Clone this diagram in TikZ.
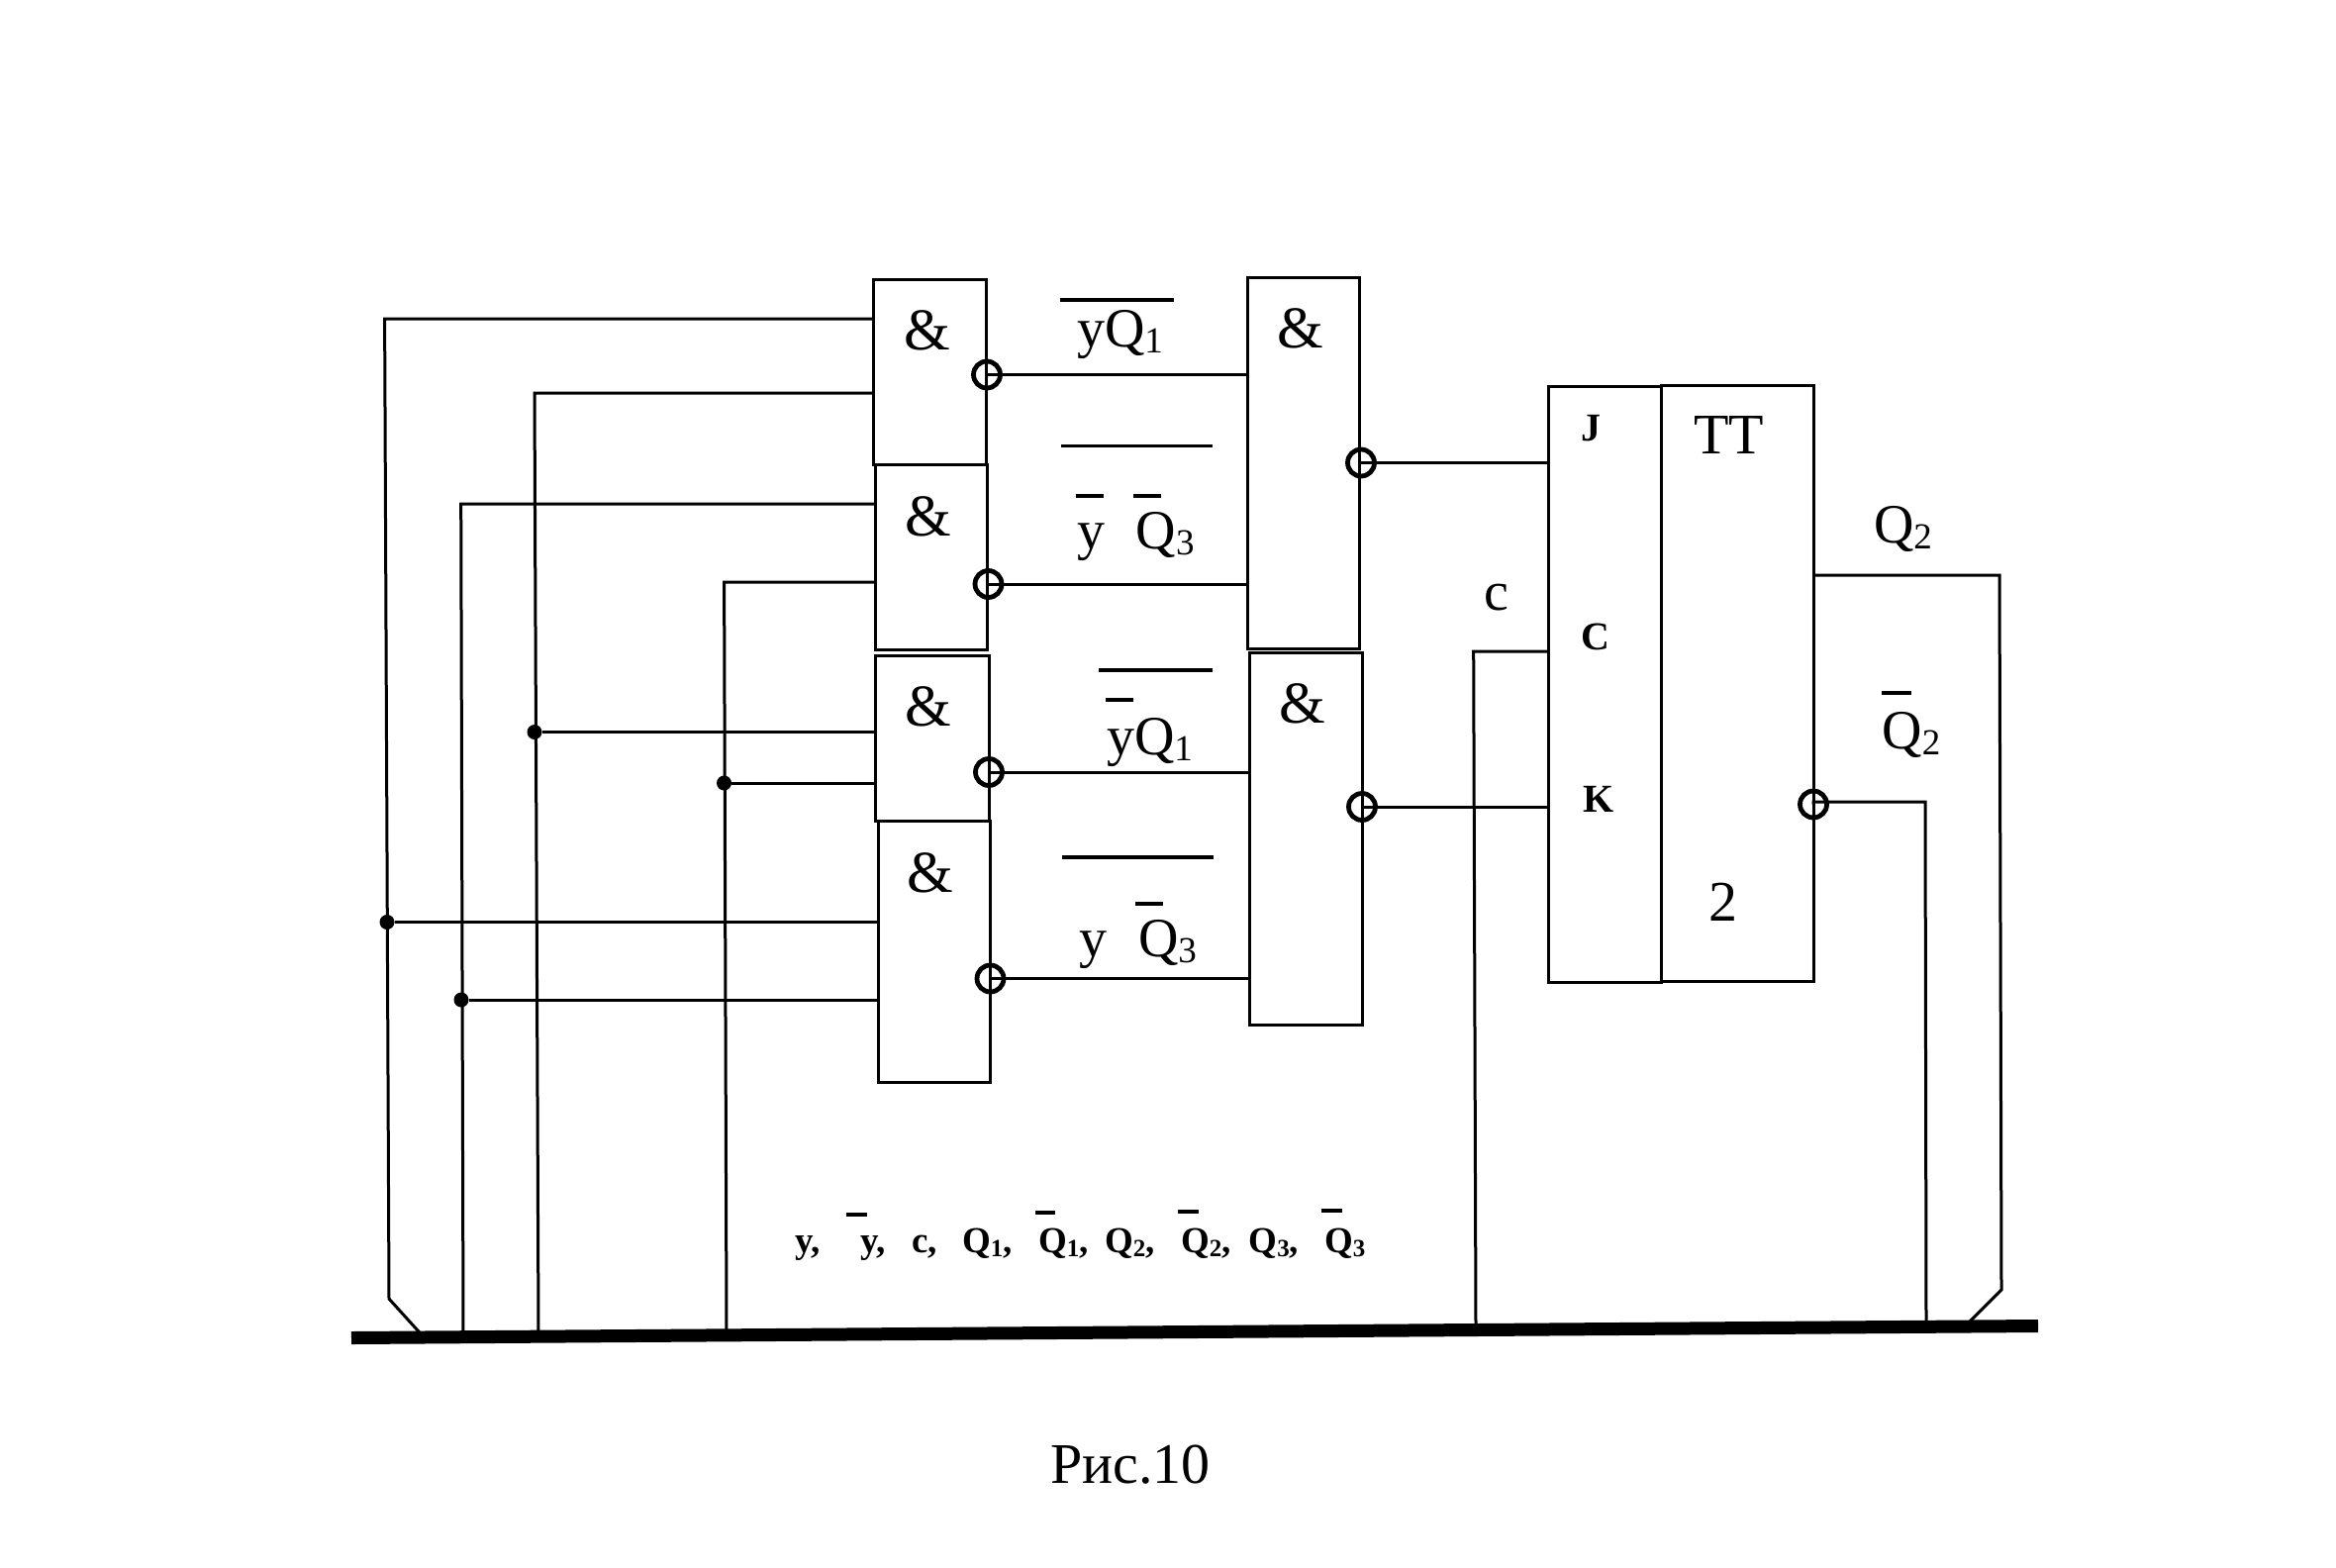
\documentclass[tikz,border=0pt]{standalone}
\usepackage{fontspec}
\setmainfont{Liberation Serif}
\newcommand{\mainsub}[1]{\raisebox{-6pt}{\fontsize{37}{37}\selectfont #1}}
\newcommand{\boldsub}[1]{\raisebox{-4pt}{\fontsize{25}{25}\selectfont #1}}
\tikzset{
  wire/.style={line width=3pt,line join=miter},
  gatebox/.style={draw,line width=3pt,rectangle,inner sep=0pt,outer sep=0pt},
  invert/.style={draw,circle,line width=4.8pt,minimum size=27pt,inner sep=0pt,outer sep=0pt},
  junct/.style={fill,circle,minimum size=15pt,inner sep=0pt,outer sep=0pt},
  barline/.style={line width=3.4pt},
  smallbar/.style={line width=3.4pt},
  lab/.style={anchor=base west,inner sep=0pt,outer sep=0pt,font=\fontsize{56}{56}\selectfont},
  amp/.style={anchor=center,inner sep=0pt,outer sep=0pt,font=\fontsize{60}{60}\selectfont},
  pin/.style={anchor=base west,inner sep=0pt,outer sep=0pt,font=\fontsize{40}{40}\selectfont\bfseries},
  lst/.style={anchor=base west,inner sep=0pt,outer sep=0pt,font=\fontsize{37}{37}\selectfont\bfseries}
}
\begin{document}
\begin{tikzpicture}[x=1pt,y=-1pt]
\useasboundingbox (0,0) rectangle (2360,1583);
% gates
\node[gatebox,minimum width=113.6pt,minimum height=187pt] (ga) at (939.2,376) {};
\node[gatebox,minimum width=113pt,minimum height=187pt] (gb) at (941,563) {};
\node[gatebox,minimum width=114.5pt,minimum height=167pt] (gc) at (941.8,745.5) {};
\node[gatebox,minimum width=113pt,minimum height=264pt] (gd) at (943.5,961) {};
\node[gatebox,minimum width=113pt,minimum height=375pt] (ge) at (1317,467.5) {};
\node[gatebox,minimum width=113.4pt,minimum height=376pt] (gf) at (1319.3,847) {};
\node[gatebox,minimum width=114pt,minimum height=602pt] (ffl) at (1621,691) {};
\node[gatebox,minimum width=154pt,minimum height=602pt] (ffr) at (1755,690.5) {};
% amp labels
\node[amp] (aa) at (936.5,334) {\&};
\node[amp] (ab) at (938,521.5) {\&};
\node[amp] (ac) at (938,713.5) {\&};
\node[amp] (ad) at (939.5,881.5) {\&};
\node[amp] (ae) at (1314,332) {\&};
\node[amp] (af) at (1316,710.5) {\&};
% inverters
\node[invert] (oa) at (997,378.5) {};
\node[invert] (ob) at (998.5,590) {};
\node[invert] (oc) at (999,780) {};
\node[invert] (od) at (1000.5,988.5) {};
\node[invert] (oe) at (1375,467.5) {};
\node[invert] (of) at (1376,815) {};
\node[invert] (oq) at (1832,812.5) {};
% bus
\coordinate (busl) at (355,1351.5);
\coordinate (busr) at (2059,1339.5);
\draw[line width=13pt] (busl) -- (busr);
% junctions
\node[junct] (j1) at (540,739.5) {};
\node[junct] (j2) at (731.5,791) {};
\node[junct] (j3) at (391,931.5) {};
\node[junct] (j4) at (466,1010) {};
% corners
\coordinate (c1) at (388.6,322);
\coordinate (c1b) at (393,1312);
\coordinate (c1e) at (424.7,1347);
\coordinate (c2) at (540,397);
\coordinate (c2e) at (544,1347);
\coordinate (c3) at (465.7,509);
\coordinate (c3e) at (468,1347);
\coordinate (c4) at (731.6,588);
\coordinate (c4e) at (734,1346);
\coordinate (cc) at (1488.7,658);
\coordinate (cce) at (1491,1340);
\coordinate (q1) at (2020,581);
\coordinate (q1b) at (2022,1303);
\coordinate (q1e) at (1988,1337);
\coordinate (q2) at (1945,810);
\coordinate (q2e) at (1946,1338);
% input wires
\draw[wire] (ga.west |- c1) -- (c1) -- (c1b) -- (c1e);
\draw[wire] (ga.west |- c2) -- (c2) -- (c2e);
\draw[wire] (gb.west |- c3) -- (c3) -- (c3e);
\draw[wire] (gb.west |- c4) -- (c4) -- (c4e);
\draw[wire] (j1) -- (j1 -| gc.west);
\draw[wire] (j2) -- (j2 -| gc.west);
\draw[wire] (j3) -- (j3 -| gd.west);
\draw[wire] (j4) -- (j4 -| gd.west);
% gate outputs
\draw[wire] (oa.center) -- (oa.center -| ge.west);
\draw[wire] (ob.center) -- (ob.center -| ge.west);
\draw[wire] (oc.center) -- (oc.center -| gf.west);
\draw[wire] (od.center) -- (od.center -| gf.west);
\draw[wire] (oe.center) -- (oe.center -| ffl.west);
\draw[wire] (of.center) -- (of.center -| ffl.west);
% flip-flop wires
\draw[wire] (ffl.west |- cc) -- (cc) -- (cce);
\draw[wire] (ffr.east |- q1) -- (q1) -- (q1b) -- (q1e);
\draw[wire] (oq.center) -- (oq.center |- q2) -- (q2) -- (q2e);
% overbars
\draw[barline] (1070.5,303) -- (1186,303);
\draw[barline] (1072,450.5) -- (1225,450.5);
\draw[smallbar] (1086.6,501) -- (1114.6,501);
\draw[smallbar] (1145,501) -- (1173,501);
\draw[barline] (1110,677) -- (1225,677);
\draw[smallbar] (1117,707) -- (1145,707);
\draw[barline] (1073,866) -- (1226,866);
\draw[smallbar] (1147,913) -- (1175,913);
\draw[smallbar] (1901,700) -- (1931,700);
% main labels
\node[lab] (t1) at (1088,350) {yQ\mainsub{1}};
\node[lab] (t2a) at (1088,554) {y};
\node[lab] (t2b) at (1147.6,554) {Q\mainsub{3}};
\node[lab] (t3) at (1118,762) {yQ\mainsub{1}};
\node[lab] (t4a) at (1090,966) {y};
\node[lab] (t4b) at (1150,966) {Q\mainsub{3}};
\node[lab] (tq) at (1893,548.5) {Q\mainsub{2}};
\node[lab] (tqb) at (1901.5,756) {Q\mainsub{2}};
\node[lab] (tc) at (1499.5,616) {c};
\node[lab,font=\fontsize{58}{58}\selectfont] (ttt) at (1711,458.5) {TT};
\node[lab,font=\fontsize{58}{58}\selectfont] (ttwo) at (1726,930) {2};
\node[pin] (pj) at (1597,445.5) {J};
\node[pin] (pc) at (1597.5,656) {C};
\node[pin] (pk) at (1599.5,820) {K};
% signal list
\node[lst] (s1) at (803.5,1265) {y,};
\node[lst] (s2) at (869,1265) {y,};
\node[lst] (s3) at (921,1265) {c,};
\node[lst] (s4) at (972,1265) {Q\boldsub{1},};
\node[lst] (s5) at (1049,1265) {Q\boldsub{1},};
\node[lst] (s6) at (1116,1265) {Q\boldsub{2},};
\node[lst] (s7) at (1193,1265) {Q\boldsub{2},};
\node[lst] (s8) at (1261.6,1265) {Q\boldsub{3},};
\node[lst] (s9) at (1338,1265) {Q\boldsub{3}};
\draw[smallbar] (855,1227) -- (876,1227);
\draw[smallbar] (1046,1225) -- (1066,1225);
\draw[smallbar] (1190,1224) -- (1211,1224);
\draw[smallbar] (1335,1223) -- (1356,1223);
% caption
\node[anchor=base west,inner sep=0pt,font=\fontsize{58}{58}\selectfont] (cap) at (1061,1498.5) {Рис.10};
\end{tikzpicture}
\end{document}
